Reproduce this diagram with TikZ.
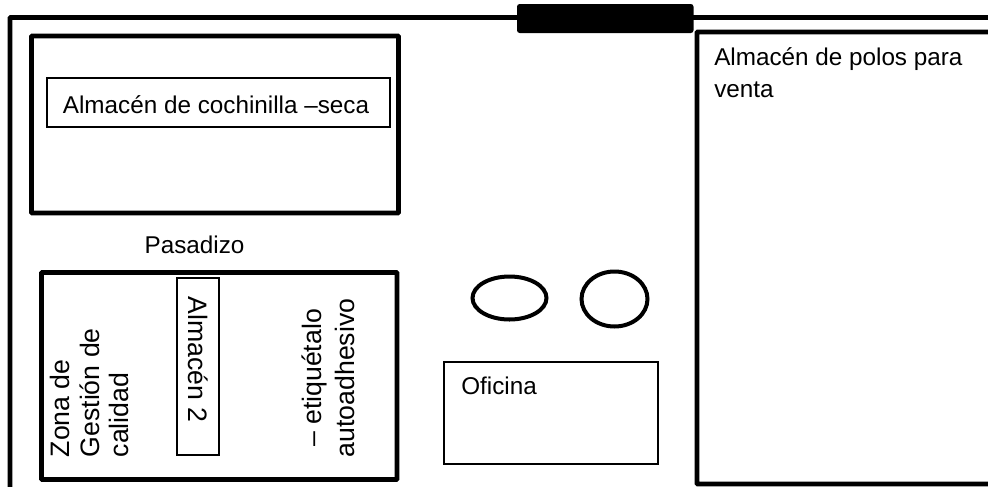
\documentclass[tikz,border=0pt]{standalone}
\usepackage{fontspec}
\setmainfont{Liberation Sans}
\usepackage{tikz}
\usetikzlibrary{positioning}

\begin{document}
\begin{tikzpicture}[x=0.75pt,y=-0.75pt,
    wall/.style    = {draw=black,line width=3.4pt,rounded corners=0.5pt},
    thinbox/.style = {draw=black,line width=0.9pt},
    oval/.style    = {draw=black,line width=3pt},
    door/.style    = {fill=black,rounded corners=2pt},
    label/.style   = {font=\fontsize{18.2}{24}\selectfont,inner sep=0pt},
    upright/.style = {inner sep=0pt,rotate=90,font=\fontsize{20}{22}\selectfont},
  ]
  \useasboundingbox (0,0) rectangle (988,486);
  % outer walls
  \draw[wall] (10,490) -- (10,17.5) -- (995,17.5);
  \fill[door] (517,4) rectangle (693.5,33);
  % rooms
  \draw[wall] (31.5,36) rectangle (398.5,213);
  \draw[wall] (41.5,272.5) rectangle (397,479.5);
  \draw[wall] (697,32) rectangle (995,484);
  % inner boxes
  \draw[thinbox] (47,78) rectangle (390,127);
  \draw[thinbox] (177,278) rectangle (219,455);
  \draw[thinbox] (444,362) rectangle (658,464);
  % tables
  \draw[oval] (509.5,298) ellipse (37 and 21.5);
  \draw[oval] (614.5,299) ellipse (33 and 27.5);
  % labels
  \node[label] (seca) at (216,105) {Almacén de cochinilla –seca};
  \node[label] (pasadizo) at (194.5,245) {Pasadizo};
  \node[upright,rotate=180] (alm2) at (198,359.5) {Almacén 2};
  \node[upright,anchor=south west,align=left] (zona) at (129,457.5) {Zona de\\Gestión de\\calidad};
  \node[upright,align=center,font=\fontsize{20}{25}\selectfont] (etiq) at (328,378) {– etiquétalo\\autoadhesivo};
  \node[label,anchor=north west,align=left] (polos) at (714,47) {Almacén de polos para\\venta};
  \node[label,anchor=west] (oficina) at (461,386) {Oficina};
\end{tikzpicture}
\end{document}
